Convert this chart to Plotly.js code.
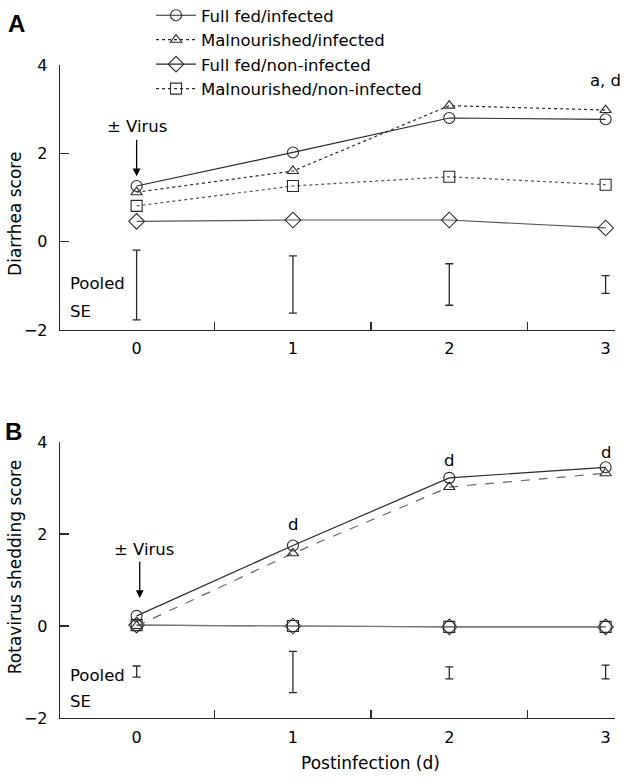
<!DOCTYPE html>
<html>
<head>
<meta charset="utf-8">
<script src="https://cdn.plot.ly/plotly-3.0.1.min.js"></script>
<style>html,body{margin:0;padding:0;background:#fff;}#chart{width:630px;height:783px;}</style>
</head>
<body>
<div id="chart"></div>
<script>
// ---- data ----
const days = [0, 1, 2, 3];
const seriesNames = ["Full fed/infected", "Malnourished/infected", "Full fed/non-infected", "Malnourished/non-infected"];
// Panel A: diarrhea score
const diarFullInf   = [1.26, 2.02, 2.80, 2.77];
const diarMalInf    = [1.12, 1.60, 3.08, 2.98];
const diarFullNon   = [0.46, 0.49, 0.49, 0.31];
const diarMalNon    = [0.81, 1.26, 1.47, 1.29];
const diarSECenter  = [-0.98, -0.97, -0.97, -0.97];
const diarSEHalf    = [0.79, 0.65, 0.47, 0.20];
// Panel B: rotavirus shedding score
const shedFullInf   = [0.22, 1.75, 3.22, 3.45];
const shedMalInf    = [0.00, 1.58, 3.02, 3.32];
const shedFullNon   = [0.02, 0.00, -0.02, -0.02];
const shedMalNon    = [0.02, 0.00, -0.02, -0.02];
const shedSECenter  = [-0.99, -1.00, -1.02, -1.00];
const shedSEHalf    = [0.12, 0.45, 0.13, 0.15];
// annotations text
const sigA = [{day: 3, y: 3.66, text: "a, d"}];
const sigB = [{day: 1, y: 2.2, text: "d"}, {day: 2, y: 3.6, text: "d"}, {day: 3, y: 3.78, text: "d"}];
const xTickLabels = ["0", "1", "2", "3"];

const FONT = "'DejaVu Sans', Verdana, sans-serif";
const dark = "#2a2a2a", gray = "#555";

function line(y, name, symbol, dash, color, xa, ya, showlegend, msize) {
  return {
    x: days, y: y, name: name, type: "scatter", mode: "lines+markers",
    xaxis: xa, yaxis: ya, showlegend: showlegend,
    line: {color: color, width: 1.2, dash: dash},
    marker: {symbol: symbol, size: msize || 10, color: dark, line: {color: dark, width: 1.1}}
  };
}
function seTrace(c, h, xa, ya) {
  return {
    x: days, y: c, type: "scatter", mode: "markers", xaxis: xa, yaxis: ya, showlegend: false,
    marker: {size: 1, color: "rgba(0,0,0,0)"},
    error_y: {type: "data", array: h, visible: true, color: dark, thickness: 1.3, width: 4},
    hoverinfo: "skip"
  };
}

const traces = [
  seTrace(diarSECenter, diarSEHalf, "x", "y"),
  line(diarFullNon, seriesNames[2], "diamond-open", "solid", gray, "x", "y", false, 12),
  line(diarMalNon, seriesNames[3], "square-open", "dot", gray, "x", "y", false, 11),
  line(diarMalInf, seriesNames[1], "triangle-up-open", "dot", dark, "x", "y", false, 10),
  line(diarFullInf, seriesNames[0], "circle-open", "solid", dark, "x", "y", false, 11),
  // legend entries (panel A order)
  line([null,null,null,null], seriesNames[0], "circle-open", "solid", dark, "x", "y", true, 11),
  line([null,null,null,null], seriesNames[1], "triangle-up-open", "dot", dark, "x", "y", true, 10),
  line([null,null,null,null], seriesNames[2], "diamond-open", "solid", dark, "x", "y", true, 12),
  line([null,null,null,null], seriesNames[3], "square-open", "dot", dark, "x", "y", true, 11),
  seTrace(shedSECenter, shedSEHalf, "x2", "y2"),
  line(shedFullNon, seriesNames[2], "diamond-open", "solid", "#777", "x2", "y2", false, 12),
  line(shedMalNon, seriesNames[3], "square-open", "solid", "#777", "x2", "y2", false, 11),
  line(shedMalInf, seriesNames[1], "triangle-up-open", "dash", "#666", "x2", "y2", false, 10),
  line(shedFullInf, seriesNames[0], "circle-open", "solid", dark, "x2", "y2", false, 11)
];

const xr = [-0.49, 3.06];
function xAxis(anchor) {
  return {
    anchor: anchor, range: xr, showline: true, linecolor: dark, linewidth: 1.3,
    tickmode: "array", tickvals: days, ticktext: xTickLabels, ticks: "",
    minor: {tickmode: "array", tickvals: [0.5, 1.5, 2.5], ticks: "inside", ticklen: 8, tickwidth: 1.3, tickcolor: dark},
    showgrid: false, zeroline: false, tickfont: {family: FONT, size: 16, color: "#000"},
    ticklabelstandoff: 4, fixedrange: true, automargin: false
  };
}
function yAxis(anchor, domain) {
  return {
    anchor: anchor, domain: domain, range: [-2, 4], showline: true, linecolor: dark, linewidth: 1.3,
    tickmode: "array", tickvals: [-2, 0, 2, 4], ticks: "inside", ticklen: 9, tickwidth: 1.3, tickcolor: dark,
    showgrid: false, zeroline: false, tickfont: {family: FONT, size: 16, color: "#000"},
    ticklabelstandoff: 8, fixedrange: true, automargin: false
  };
}

const ann = [];
const tf = {family: FONT, size: 16.5, color: "#000"};
function txt(xref, yref, x, y, text, extra) {
  ann.push(Object.assign({xref: xref, yref: yref, x: x, y: y, text: text, showarrow: false, font: tf,
                          xanchor: "center", yanchor: "middle"}, extra || {}));
}
const bold = {family: "Liberation Sans, Arial, sans-serif", size: 24, color: "#000"};
const titleFont = {family: FONT, size: 17, color: "#000"};
// panel letters
txt("paper", "paper", -0.0775, 1.064, "<b>A</b>", {font: bold});
txt("paper", "paper", -0.083, 0.4395, "<b>B</b>", {font: bold});
// y titles
txt("paper", "paper", -0.081, 0.772, "Diarrhea score", {textangle: -90, font: titleFont});
txt("paper", "paper", -0.081, 0.231, "Rotavirus shedding score", {textangle: -90, font: titleFont});
// x title
txt("paper", "paper", 0.56, -0.069, "Postinfection (d)", {font: titleFont});
// virus arrows
txt("x", "y", 0, 2.61, "± Virus");
ann.push({xref: "x", yref: "y", x: 0, y: 1.48, axref: "x", ayref: "y", ax: 0, ay: 2.34, text: "", showarrow: true, arrowhead: 2, arrowsize: 1.2, arrowwidth: 1.3, arrowcolor: "#000"});
txt("x2", "y2", 0.05, 1.67, "± Virus");
ann.push({xref: "x2", yref: "y2", x: 0.02, y: 0.61, axref: "x2", ayref: "y2", ax: 0.02, ay: 1.43, text: "", showarrow: true, arrowhead: 2, arrowsize: 1.2, arrowwidth: 1.3, arrowcolor: "#000"});
// pooled SE
txt("x", "y", -0.44, -0.95, "Pooled", {xanchor: "left"});
txt("x", "y", -0.44, -1.58, "SE", {xanchor: "left"});
txt("x2", "y2", -0.44, -1.07, "Pooled", {xanchor: "left"});
txt("x2", "y2", -0.44, -1.65, "SE", {xanchor: "left"});
// significance
sigA.forEach(s => txt("x", "y", s.day, s.y, s.text));
sigB.forEach(s => txt("x2", "y2", s.day, s.y, s.text));

const layout = {
  width: 630, height: 783,
  margin: {l: 60, r: 15, t: 65, b: 65, autoexpand: false},
  paper_bgcolor: "#fff", plot_bgcolor: "#fff",
  font: {family: FONT, size: 16, color: "#000"},
  showlegend: true,
  legend: {x: 0.164, y: 1.1026, xanchor: "left", yanchor: "top", bgcolor: "rgba(0,0,0,0)",
           font: {family: FONT, size: 16.5, color: "#000"}, tracegroupgap: 0, itemwidth: 40,
           traceorder: "normal"},
  xaxis: xAxis("y"),
  yaxis: yAxis("x", [0.5942, 1]),
  xaxis2: xAxis("y2"),
  yaxis2: yAxis("x2", [0, 0.4227]),
  annotations: ann
};

Plotly.newPlot("chart", traces, layout, {displayModeBar: false, staticPlot: true});
</script>
</body>
</html>
